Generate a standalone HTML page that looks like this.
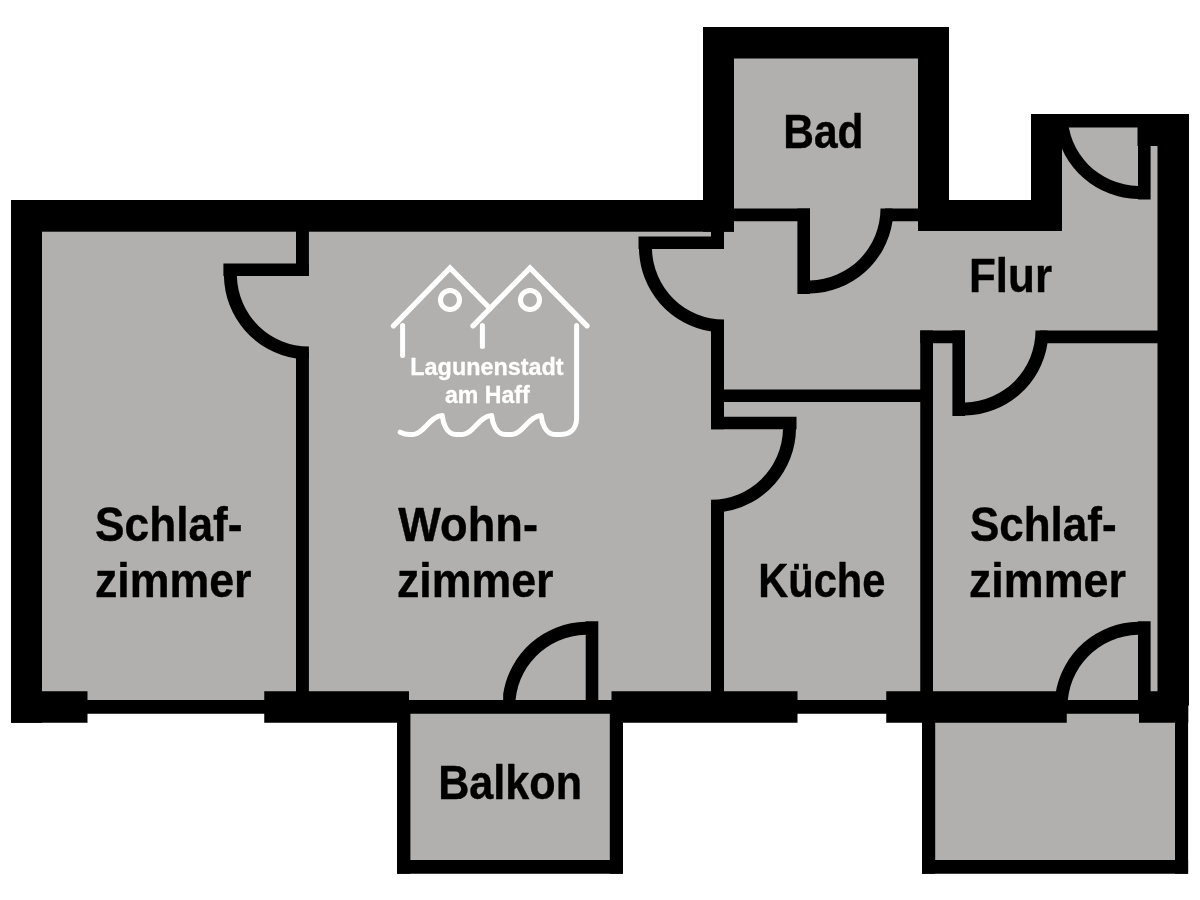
<!DOCTYPE html>
<html lang="de">
<head>
<meta charset="utf-8">
<title>Grundriss – Lagunenstadt am Haff</title>
<style>
html,body{margin:0;padding:0;background:#fff;}
body{width:1200px;height:900px;overflow:hidden;}
svg{display:block;will-change:transform;}
text{font-family:"Liberation Sans",sans-serif;font-weight:700;stroke-linejoin:round;}
.rooms text{fill:#000;stroke:#000;}
.brand text{fill:#fff;stroke:#fff;}
</style>
</head>
<body>
<svg width="1200" height="900" viewBox="0 0 1200 900" role="img" aria-label="Grundriss">
<rect width="1200" height="900" fill="#fff"/>
<g class="floor" fill="#b2b0ae">
<rect x="42" y="231" width="1116" height="475"/>
<rect x="734" y="58" width="184" height="174"/>
<rect x="1062" y="127" width="96" height="105"/>
<rect x="409" y="713" width="202" height="148"/>
<rect x="934" y="713" width="242" height="148"/>
</g>
<g class="walls" fill="#000">
<rect x="11" y="200" width="31" height="522.75"/>
<rect x="11" y="200" width="723" height="31.7"/>
<rect x="703" y="27" width="31" height="204.7"/>
<rect x="703" y="27" width="246" height="31.5"/>
<rect x="918" y="27" width="31" height="204"/>
<rect x="918" y="200" width="144" height="31"/>
<rect x="1031" y="114" width="31" height="117"/>
<rect x="1031" y="114" width="158" height="13.5"/>
<rect x="1157.5" y="114" width="31.5" height="591.5"/>
<rect x="1137.5" y="114" width="51.5" height="32"/>
<rect x="11" y="691.25" width="76.5" height="31.5"/>
<rect x="264.25" y="691.25" width="144.75" height="31.5"/>
<rect x="611.5" y="691.25" width="186.0" height="31.5"/>
<rect x="886.25" y="691.25" width="180.5" height="31.5"/>
<rect x="1139" y="691.25" width="49.25" height="31.5"/>
<rect x="80" y="700" width="1070" height="13.75"/>
<rect x="296" y="231" width="12.9" height="45"/>
<rect x="296" y="352" width="12.9" height="348.5"/>
<rect x="711" y="231" width="13" height="18"/>
<rect x="711" y="325" width="13" height="104.25"/>
<rect x="711" y="505" width="13" height="195.5"/>
<rect x="920.25" y="330.5" width="12.75" height="370.0"/>
<rect x="711" y="389.5" width="222" height="12.5"/>
<rect x="920.25" y="330.5" width="44.75" height="12.75"/>
<rect x="1040" y="330.5" width="118" height="12.75"/>
<rect x="734" y="208.5" width="76" height="12.75"/>
<rect x="885" y="208.5" width="33" height="12.75"/>
<rect x="397" y="713" width="13.4" height="160.75"/>
<rect x="609.8" y="713" width="13.2" height="160.75"/>
<rect x="397" y="860" width="226" height="13.75"/>
<rect x="922" y="713" width="13.2" height="160.75"/>
<rect x="1175" y="705" width="13.1" height="168.75"/>
<rect x="922" y="860" width="266.1" height="13.75"/>
</g>
<g class="doors" fill="#000">
<path d="M0 -12.6 H85.5 V0 H84.99 A85.0 85.0 0 0 1 12.8 82.53 H0 V70.5 A72.0 72.0 0 0 0 71.98 0 H0 Z" transform="matrix(-1 0 0 1 308.9 276)"/>
<path d="M0 -12.6 H85.5 V0 H84.99 A85.0 85.0 0 0 1 12.8 82.53 H0 V70.5 A72.0 72.0 0 0 0 71.98 0 H0 Z" transform="matrix(-1 0 0 1 724 249)"/>
<path d="M0 -12.6 H85.5 V0 H84.99 A85.0 85.0 0 0 1 12.8 82.53 H0 V70.5 A72.0 72.0 0 0 0 71.98 0 H0 Z" transform="matrix(0 1 1 0 810 208.5)"/>
<path d="M0 -12.6 H85.5 V0 H84.99 A85.0 85.0 0 0 1 12.8 82.53 H0 V70.5 A72.0 72.0 0 0 0 71.98 0 H0 Z" transform="matrix(1 0 0 1 711 429.25)"/>
<path d="M0 -12.6 H85.5 V0 H84.99 A85.0 85.0 0 0 1 12.8 82.53 H0 V70.5 A72.0 72.0 0 0 0 71.98 0 H0 Z" transform="matrix(0 1 1 0 965 330.5)"/>
<path d="M0 -12.6 H85.5 V0 H84.99 A85.0 85.0 0 0 1 12.8 82.53 H0 V70.5 A72.0 72.0 0 0 0 71.98 0 H0 Z" transform="matrix(0 1 -1 0 1138 114)"/>
<path d="M0 -12.6 H85.5 V0 H84.99 A85.0 85.0 0 0 1 12.8 82.53 H0 V70.5 A72.0 72.0 0 0 0 71.98 0 H0 Z" transform="matrix(0 -1 -1 0 585.7 706.8)"/>
<path d="M0 -12.6 H85.5 V0 H84.99 A85.0 85.0 0 0 1 12.8 82.53 H0 V70.5 A72.0 72.0 0 0 0 71.98 0 H0 Z" transform="matrix(0 -1 -1 0 1138 706.8)"/>
</g>
<g class="brand">
<g fill="none" stroke="#fff" stroke-width="5" stroke-linecap="round" stroke-linejoin="miter">
<path d="M393.5 325.8 L450 268 L490 308.5" stroke-width="5.3"/>
<path d="M473 325.8 L530 268 L587 325.8" stroke-width="5.3"/>
<circle cx="450" cy="300" r="9.5"/>
<circle cx="530" cy="300" r="9.5"/>
<path d="M402.6 325.5 V355.5"/>
<path d="M482.4 325.5 V346.5"/>
<path d="M400.2 432.2 C403 433.6 406 434.5 409 434.5 L413.1 434.5 C423.1 434.5 430.3 415.5 442.3 415.5 C442.8 422.5 446.3 434.5 456.3 434.5 L462.5 434.5 C472.5 434.5 479.7 415.5 491.7 415.5 C492.2 422.5 495.7 434.5 505.7 434.5 L512.0 434.5 C522.0 434.5 529.2 415.5 541.2 415.5 C541.7 422.5 545.2 434.5 555.2 434.5 L560 434.5 C569 434.5 576.6 430 576.6 418 V325.5" stroke-linejoin="round"/>
</g>
<text x="410.32" y="375.2" font-size="23.6" textLength="153.34" lengthAdjust="spacingAndGlyphs" stroke-width="0.3">Lagunenstadt</text>
<text x="444.89" y="403.4" font-size="23.6" textLength="84.79" lengthAdjust="spacingAndGlyphs" stroke-width="0.3">am Haff</text>
</g>
<g class="rooms">
<text x="95.12" y="541.4" font-size="47.6" textLength="147.41" lengthAdjust="spacingAndGlyphs" stroke-width="0.4">Schlaf-</text>
<text x="94.99" y="597.2" font-size="47.6" textLength="156.52" lengthAdjust="spacingAndGlyphs" stroke-width="0.4">zimmer</text>
<text x="398.29" y="541.4" font-size="47.6" textLength="139.65" lengthAdjust="spacingAndGlyphs" stroke-width="0.4">Wohn-</text>
<text x="396.99" y="597.2" font-size="47.6" textLength="156.49" lengthAdjust="spacingAndGlyphs" stroke-width="0.4">zimmer</text>
<text x="758.13" y="597.2" font-size="47.6" textLength="127.3" lengthAdjust="spacingAndGlyphs" stroke-width="0.4">Küche</text>
<text x="969.95" y="541.4" font-size="47.6" textLength="146.68" lengthAdjust="spacingAndGlyphs" stroke-width="0.4">Schlaf-</text>
<text x="968.97" y="597.2" font-size="47.6" textLength="156.89" lengthAdjust="spacingAndGlyphs" stroke-width="0.4">zimmer</text>
<text x="783.29" y="148.4" font-size="47.6" textLength="80.28" lengthAdjust="spacingAndGlyphs" stroke-width="0.4">Bad</text>
<text x="969.04" y="292.3" font-size="47.6" textLength="82.95" lengthAdjust="spacingAndGlyphs" stroke-width="0.4">Flur</text>
<text x="438.15" y="799.05" font-size="47.6" textLength="143.87" lengthAdjust="spacingAndGlyphs" stroke-width="0.4">Balkon</text>
</g>
</svg>
</body>
</html>
